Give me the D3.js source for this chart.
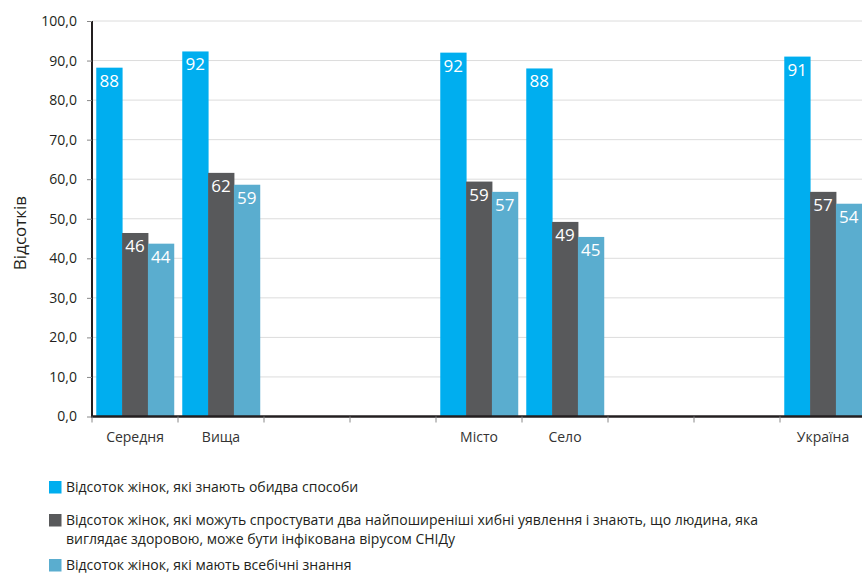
<!DOCTYPE html>
<html><head><meta charset="utf-8">
<script src="https://cdn.jsdelivr.net/npm/d3@7"></script>
<style>body{margin:0;background:#fff}svg{display:block;font-family:"Open Sans","Noto Sans",sans-serif}</style>
</head><body><svg id="c" width="862" height="573"></svg>
<script>
const categories = ["Середня","Вища","","  ","Місто","Село","   ","    ","Україна"];
const seriesNames = [
  "Відсоток жінок, які знають обидва способи",
  "Відсоток жінок, які можуть спростувати два найпоширеніші хибні уявлення і знають, що людина, яка|виглядає здоровою, може бути інфікована вірусом СНІДу",
  "Відсоток жінок, які мають всебічні знання"
];
const knowBoth   = [88.2, 92.3, null, null, 92.0, 88.0, null, null, 91.0];
const rejectMyth = [46.4, 61.6, null, null, 59.4, 49.2, null, null, 56.8];
const comprehensive = [43.7, 58.6, null, null, 56.8, 45.4, null, null, 53.8];
const yTicks = [0,10,20,30,40,50,60,70,80,90,100];
const colors = ["#00aeef","#58595b","#5aadcf"];

(function(){
const series = [knowBoth, rejectMyth, comprehensive];
const svg = d3.select("#c");
const mLeft = 92, mRight = 866, mTop = 21, mBottom = 416.5;
const x = d3.scaleBand().domain(categories).range([mLeft, mRight]).paddingInner(0).paddingOuter(0);
const x1 = d3.scaleBand().domain([0,1,2]).range([0, x.bandwidth()]).paddingOuter(0.165).paddingInner(0);
const y = d3.scaleLinear().domain([0,100]).range([mBottom, mTop]);

// grid
svg.append("g").selectAll("line").data(yTicks.filter(d=>d>0)).join("line")
  .attr("x1", mLeft).attr("x2", 862).attr("y1", d=>y(d)).attr("y2", d=>y(d))
  .attr("stroke","#dcdcdc").attr("stroke-width",1);

// bars
const groups = svg.append("g").selectAll("g").data(categories).join("g")
  .attr("transform", d=>`translate(${x(d)},0)`);
groups.each(function(cat, ci){
  const g = d3.select(this);
  series.forEach((s, si)=>{
    const v = s[ci];
    if (v == null) return;
    g.append("rect").attr("x", x1(si)).attr("width", x1.bandwidth()+0.5)
      .attr("y", y(v)).attr("height", y(0)-y(v)).attr("fill", colors[si]);
    g.append("text").attr("x", x1(si)+x1.bandwidth()/2).attr("y", y(v)+19)
      .attr("text-anchor","middle").attr("fill","#fff").attr("font-size",17)
      .text(d3.format(".0f")(v));
  });
});

// y axis
const ya = svg.append("g").attr("transform",`translate(${mLeft},0)`)
  .call(d3.axisLeft(y).tickValues(yTicks).tickFormat(d=>d3.format(".1f")(d).replace(".",",")).tickSize(5).tickPadding(10));
ya.select(".domain").attr("stroke","#231f20").attr("stroke-width",2).attr("d",`M0,${mBottom}V${mTop}`);
ya.selectAll(".tick line").attr("stroke","#888");
ya.selectAll("text").attr("font-size",14).attr("fill","#231f20").attr("font-family","'Open Sans','Noto Sans',sans-serif");

// x axis
const xa = svg.append("g").attr("transform",`translate(0,${mBottom})`)
  .call(d3.axisBottom(x).tickSize(0).tickPadding(16));
xa.select(".domain").attr("stroke","#231f20").attr("stroke-width",2.5).attr("d",`M${mLeft-1},0H862`);
xa.selectAll("text").attr("font-size",14).attr("fill","#333").attr("font-family","'Open Sans','Noto Sans',sans-serif");
svg.append("g").selectAll("line").data(categories).join("line")
  .attr("x1", d=>x(d)).attr("x2", d=>x(d)).attr("y1", mBottom).attr("y2", mBottom+6)
  .attr("stroke","#888").attr("stroke-width",1);

// y title
svg.append("text").attr("transform","translate(26,233) rotate(-90)").attr("text-anchor","middle")
  .attr("font-size",17).attr("fill","#231f20").text("Відсотків");

// legend
const legY = [487, 520, 565];
seriesNames.forEach((name, i)=>{
  svg.append("rect").attr("x",49).attr("y",legY[i]-6).attr("width",12.5).attr("height",12.5).attr("fill",colors[i]);
  const lines = name.split("|");
  lines.forEach((ln, j)=>{
    svg.append("text").attr("x",66).attr("y",legY[i]+5+j*19).attr("font-size",14).attr("fill","#231f20").text(ln);
  });
});
})();
</script></body></html>
